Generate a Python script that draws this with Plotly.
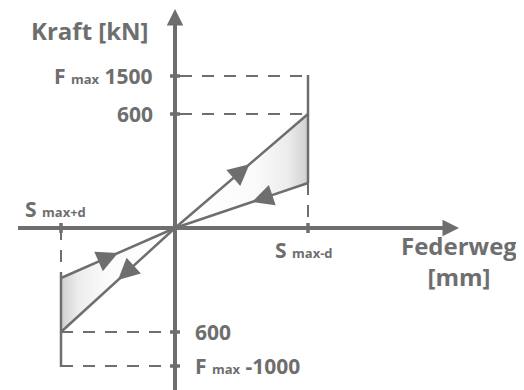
import plotly.graph_objects as go

# schematic spring diagram (Federweg vs Kraft), units are diagram units
s_pos = [-1.14, 1.33]                      # S max+d (left), S max-d (right)
s_labels = ["S max+d", "S max-d"]
f_pos = [1.52, 1.14, -1.04, -1.38]         # force levels on the Kraft axis
f_labels = ["F max 1500", "600", "600", "F max -1000"]

# end points of the load / unload lines at the travel limits
right_load_end = 1.14
right_unload_end = 0.45
left_upper_end = -0.50
left_lower_end = -1.04

GREY = "#6e6e6e"
FONT = "Open Sans"


def sub(label):
    # "F max 1500" -> big F, small max, big number
    parts = label.split(" ", 2)
    s = "%s <span style='font-size:13px'>%s</span>" % (parts[0], parts[1])
    if len(parts) > 2:
        s += " " + parts[2]
    return s


fig = go.Figure()

# gradient fills between the curves
fig.add_trace(go.Scatter(
    x=[0, s_pos[1], s_pos[1], 0], y=[0, right_load_end, right_unload_end, 0],
    fill="toself", mode="lines", line=dict(width=0),
    fillgradient=dict(type="horizontal",
                      colorscale=[[0, "white"], [0.6, "#fbfbfb"], [0.85, "#ececec"], [1, "#d0d0d0"]]),
    hoverinfo="skip", showlegend=False))
fig.add_trace(go.Scatter(
    x=[s_pos[0], 0, s_pos[0], s_pos[0]], y=[left_upper_end, 0, left_lower_end, left_upper_end],
    fill="toself", mode="lines", line=dict(width=0),
    fillgradient=dict(type="horizontal",
                      colorscale=[[0, "#d0d0d0"], [0.15, "#ececec"], [0.4, "#fbfbfb"], [1, "white"]]),
    hoverinfo="skip", showlegend=False))


def seg(x, y, width=2.5, dash="solid"):
    fig.add_trace(go.Scatter(x=x, y=y, mode="lines",
                             line=dict(color=GREY, width=width, dash=dash),
                             hoverinfo="skip", showlegend=False))


DASH = "12px,10px"

# dashed helper lines
seg([0.05, s_pos[1]], [f_pos[0], f_pos[0]], 2, DASH)
seg([0.05, s_pos[1]], [f_pos[1], f_pos[1]], 2, DASH)
seg([s_pos[1], s_pos[1]], [right_unload_end, 0], 2, DASH)
seg([s_pos[0], -0.05], [f_pos[2], f_pos[2]], 2, DASH)
seg([s_pos[0], -0.05], [f_pos[3], f_pos[3]], 2, DASH)
seg([s_pos[0], s_pos[0]], [0, -0.44], 2, DASH)

# solid verticals at travel limits
seg([s_pos[1], s_pos[1]], [f_pos[0] + 0.01, right_unload_end])
seg([s_pos[0], s_pos[0]], [-0.44, f_pos[3] - 0.01])

# load / unload lines
seg([0, s_pos[1]], [0, right_load_end])
seg([0, s_pos[1]], [0, right_unload_end])
seg([s_pos[0], 0], [left_upper_end, 0])
seg([s_pos[0], 0], [left_lower_end, 0])

# axes
seg([-1.57, 2.72], [0, 0], 4)
seg([0, 0], [-1.8, 2.06], 4)

# tick marks
for f in f_pos:
    seg([-0.05, 0.05], [f, f], 3.5)
for s in s_pos:
    seg([s, s], [-0.05, 0.05], 3.5)

ann = []

# axis arrow heads
ann.append(dict(x=2.84, y=0, ax=2.6, ay=0, xref="x", yref="y", axref="x", ayref="y",
                showarrow=True, arrowhead=2, arrowsize=1.1, arrowwidth=3, arrowcolor=GREY, text=""))
ann.append(dict(x=0, y=2.19, ax=0, ay=1.95, xref="x", yref="y", axref="x", ayref="y",
                showarrow=True, arrowhead=2, arrowsize=1.1, arrowwidth=3, arrowcolor=GREY, text=""))


def line_arrow(x0, y0, x1, y1, t):
    # arrow head on the line from (x0,y0) to (x1,y1), tip at fraction t
    tx, ty = x0 + (x1 - x0) * t, y0 + (y1 - y0) * t
    bx, by = x0 + (x1 - x0) * (t - 0.1), y0 + (y1 - y0) * (t - 0.1)
    ann.append(dict(x=tx, y=ty, ax=bx, ay=by, xref="x", yref="y", axref="x", ayref="y",
                    showarrow=True, arrowhead=2, arrowsize=1.7, arrowwidth=2.5,
                    arrowcolor=GREY, text=""))


line_arrow(0, 0, s_pos[1], right_load_end, 0.56)
line_arrow(s_pos[1], right_unload_end, 0, 0, 0.42)
line_arrow(s_pos[0], left_upper_end, 0, 0, 0.5)
line_arrow(0, 0, s_pos[0], left_lower_end, 0.5)

# texts
bold = dict(family=FONT, size=21, color=GREY, weight="bold")
big = dict(family=FONT, size=24, color=GREY, weight="bold")

ann.append(dict(x=-0.85, y=1.98, text="Kraft [kN]", showarrow=False, font=big,
                xanchor="center", yanchor="middle"))
ann.append(dict(x=2.84, y=-0.33, text="Federweg<br>[mm]", showarrow=False, font=big,
                xanchor="center", yanchor="middle"))

for f, lab in zip(f_pos, f_labels):
    txt = sub(lab) if lab.startswith("F") else lab
    if f > 0:
        ann.append(dict(x=-0.2, y=f, text=txt, showarrow=False, font=bold,
                        xanchor="right", yanchor="middle"))
    else:
        ann.append(dict(x=0.18, y=f, text=txt, showarrow=False, font=bold,
                        xanchor="left", yanchor="middle"))

ann.append(dict(x=-1.52, y=0.19, text=sub(s_labels[0]), showarrow=False, font=bold,
                xanchor="left", yanchor="middle"))
ann.append(dict(x=0.98, y=-0.22, text=sub(s_labels[1]), showarrow=False, font=bold,
                xanchor="left", yanchor="middle"))

fig.update_layout(
    width=524, height=390,
    margin=dict(l=0, r=0, t=0, b=0),
    paper_bgcolor="white", plot_bgcolor="white",
    showlegend=False,
    annotations=ann,
)
# page adds an 8px body margin, ranges shifted to compensate
fig.update_xaxes(range=[-1.67, 3.57], visible=False, fixedrange=True)
fig.update_yaxes(range=[-1.70, 2.20], visible=False, fixedrange=True)

fig.write_html("out.html")
